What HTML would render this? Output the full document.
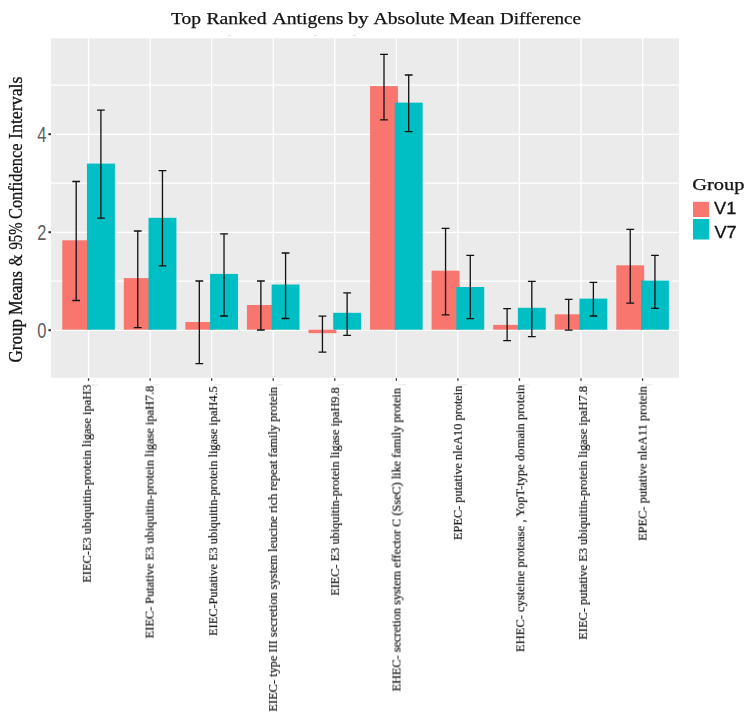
<!DOCTYPE html>
<html><head><meta charset="utf-8"><title>Top Ranked Antigens</title>
<style>
html,body{margin:0;padding:0;background:#fff;}
body{width:748px;height:721px;overflow:hidden;font-family:"Liberation Sans",sans-serif;}
svg{display:block;}
.serif{font-family:"Liberation Serif",serif;}
.sans{font-family:"Liberation Sans",sans-serif;}
</style></head><body>
<svg width="748" height="721" viewBox="0 0 748 721">
<rect x="0" y="0" width="748" height="721" fill="#ffffff"/>
<rect x="51" y="38.3" width="628" height="339.5" fill="#ebebeb"/>
<g stroke="#ffffff" stroke-width="1.15">
<line x1="51" x2="679" y1="281.10" y2="281.10"/>
<line x1="51" x2="679" y1="183.10" y2="183.10"/>
<line x1="51" x2="679" y1="85.10" y2="85.10"/>
</g>
<g stroke="#ffffff" stroke-width="1.3">
<line x1="51" x2="679" y1="330.30" y2="330.30"/>
<line x1="51" x2="679" y1="232.30" y2="232.30"/>
<line x1="51" x2="679" y1="134.30" y2="134.30"/>
<line x1="88.55" x2="88.55" y1="38.3" y2="377.8"/>
<line x1="150.11" x2="150.11" y1="38.3" y2="377.8"/>
<line x1="211.67" x2="211.67" y1="38.3" y2="377.8"/>
<line x1="273.23" x2="273.23" y1="38.3" y2="377.8"/>
<line x1="334.79" x2="334.79" y1="38.3" y2="377.8"/>
<line x1="396.35" x2="396.35" y1="38.3" y2="377.8"/>
<line x1="457.91" x2="457.91" y1="38.3" y2="377.8"/>
<line x1="519.47" x2="519.47" y1="38.3" y2="377.8"/>
<line x1="581.03" x2="581.03" y1="38.3" y2="377.8"/>
<line x1="642.59" x2="642.59" y1="38.3" y2="377.8"/>
</g>
<rect x="62.25" y="240.30" width="27.9" height="89.40" fill="#f8766d"/>
<rect x="86.95" y="163.60" width="27.9" height="166.10" fill="#00bfc4"/>
<rect x="123.81" y="278.10" width="27.9" height="51.60" fill="#f8766d"/>
<rect x="148.51" y="217.80" width="27.9" height="111.90" fill="#00bfc4"/>
<rect x="185.37" y="322.00" width="27.9" height="7.70" fill="#f8766d"/>
<rect x="210.07" y="273.90" width="27.9" height="55.80" fill="#00bfc4"/>
<rect x="246.93" y="305.00" width="27.9" height="24.70" fill="#f8766d"/>
<rect x="271.63" y="284.50" width="27.9" height="45.20" fill="#00bfc4"/>
<rect x="308.49" y="329.70" width="27.9" height="3.50" fill="#f8766d"/>
<rect x="333.19" y="312.80" width="27.9" height="16.90" fill="#00bfc4"/>
<rect x="370.05" y="86.10" width="27.9" height="243.60" fill="#f8766d"/>
<rect x="394.75" y="102.60" width="27.9" height="227.10" fill="#00bfc4"/>
<rect x="431.61" y="270.70" width="27.9" height="59.00" fill="#f8766d"/>
<rect x="456.31" y="287.00" width="27.9" height="42.70" fill="#00bfc4"/>
<rect x="493.17" y="324.90" width="27.9" height="4.80" fill="#f8766d"/>
<rect x="517.87" y="307.80" width="27.9" height="21.90" fill="#00bfc4"/>
<rect x="554.73" y="314.30" width="27.9" height="15.40" fill="#f8766d"/>
<rect x="579.43" y="298.60" width="27.9" height="31.10" fill="#00bfc4"/>
<rect x="616.29" y="265.30" width="27.9" height="64.40" fill="#f8766d"/>
<rect x="640.99" y="280.60" width="27.9" height="49.10" fill="#00bfc4"/>
<g stroke="#111111" stroke-width="1.3" fill="none">
<path d="M72.30 181.50H80.10M76.20 181.50V300.50M72.30 300.50H80.10"/>
<path d="M97.00 110.10H104.80M100.90 110.10V218.10M97.00 218.10H104.80"/>
<path d="M133.86 231.00H141.66M137.76 231.00V327.60M133.86 327.60H141.66"/>
<path d="M158.56 170.70H166.36M162.46 170.70V265.80M158.56 265.80H166.36"/>
<path d="M195.42 281.00H203.22M199.32 281.00V363.70M195.42 363.70H203.22"/>
<path d="M220.12 233.80H227.92M224.02 233.80V316.00M220.12 316.00H227.92"/>
<path d="M256.98 281.00H264.78M260.88 281.00V330.00M256.98 330.00H264.78"/>
<path d="M281.68 253.00H289.48M285.58 253.00V318.50M281.68 318.50H289.48"/>
<path d="M318.54 316.10H326.34M322.44 316.10V352.20M318.54 352.20H326.34"/>
<path d="M343.24 292.80H351.04M347.14 292.80V335.30M343.24 335.30H351.04"/>
<path d="M380.10 54.40H387.90M384.00 54.40V119.80M380.10 119.80H387.90"/>
<path d="M404.80 75.00H412.60M408.70 75.00V131.60M404.80 131.60H412.60"/>
<path d="M441.66 228.40H449.46M445.56 228.40V314.80M441.66 314.80H449.46"/>
<path d="M466.36 255.40H474.16M470.26 255.40V318.70M466.36 318.70H474.16"/>
<path d="M503.22 308.60H511.02M507.12 308.60V340.60M503.22 340.60H511.02"/>
<path d="M527.92 281.40H535.72M531.82 281.40V336.70M527.92 336.70H535.72"/>
<path d="M564.78 299.30H572.58M568.68 299.30V330.10M564.78 330.10H572.58"/>
<path d="M589.48 282.30H597.28M593.38 282.30V316.00M589.48 316.00H597.28"/>
<path d="M626.34 229.40H634.14M630.24 229.40V303.20M626.34 303.20H634.14"/>
<path d="M651.04 255.40H658.84M654.94 255.40V308.30M651.04 308.30H658.84"/>
</g>
<g fill="#333333">
<rect x="48.4" y="329.20" width="2.6" height="2"/>
<rect x="48.4" y="231.20" width="2.6" height="2"/>
<rect x="48.4" y="133.20" width="2.6" height="2"/>
<rect x="87.90" y="378.30" width="1.3" height="2.5"/>
<rect x="149.46" y="378.30" width="1.3" height="2.5"/>
<rect x="211.02" y="378.30" width="1.3" height="2.5"/>
<rect x="272.58" y="378.30" width="1.3" height="2.5"/>
<rect x="334.14" y="378.30" width="1.3" height="2.5"/>
<rect x="395.70" y="378.30" width="1.3" height="2.5"/>
<rect x="457.26" y="378.30" width="1.3" height="2.5"/>
<rect x="518.82" y="378.30" width="1.3" height="2.5"/>
<rect x="580.38" y="378.30" width="1.3" height="2.5"/>
<rect x="641.94" y="378.30" width="1.3" height="2.5"/>
</g>
<text class="sans" transform="translate(41.9,338.10) scale(0.75,1)" text-anchor="middle" font-size="22" fill="#5e5e5e">0</text>
<text class="sans" transform="translate(41.9,240.10) scale(0.75,1)" text-anchor="middle" font-size="22" fill="#5e5e5e">2</text>
<text class="sans" transform="translate(41.9,142.10) scale(0.75,1)" text-anchor="middle" font-size="22" fill="#5e5e5e">4</text>
<g opacity="0.995">
<text class="serif" x="171.00" y="23.8" font-size="16.6" fill="#111" stroke="#111" stroke-width="0.25" textLength="30.06" lengthAdjust="spacingAndGlyphs">Top</text>
<text class="serif" x="206.50" y="23.8" font-size="16.6" fill="#111" stroke="#111" stroke-width="0.25" textLength="60.01" lengthAdjust="spacingAndGlyphs">Ranked</text>
<text class="serif" x="272.50" y="23.8" font-size="16.6" fill="#111" stroke="#111" stroke-width="0.25" textLength="71.02" lengthAdjust="spacingAndGlyphs">Antigens</text>
<text class="serif" x="348.00" y="23.8" font-size="16.6" fill="#111" stroke="#111" stroke-width="0.25" textLength="20.61" lengthAdjust="spacingAndGlyphs">by</text>
<text class="serif" x="373.50" y="23.8" font-size="16.6" fill="#111" stroke="#111" stroke-width="0.25" textLength="71.01" lengthAdjust="spacingAndGlyphs">Absolute</text>
<text class="serif" x="449.00" y="23.8" font-size="16.6" fill="#111" stroke="#111" stroke-width="0.25" textLength="45.57" lengthAdjust="spacingAndGlyphs">Mean</text>
<text class="serif" x="500.00" y="23.8" font-size="16.6" fill="#111" stroke="#111" stroke-width="0.25" textLength="81.02" lengthAdjust="spacingAndGlyphs">Difference</text>
<text class="serif" transform="translate(22.2,362.50) rotate(-90)" font-size="18" fill="#111" stroke="#111" stroke-width="0.3" textLength="43.52" lengthAdjust="spacingAndGlyphs">Group</text>
<text class="serif" transform="translate(22.2,315.00) rotate(-90)" font-size="18" fill="#111" stroke="#111" stroke-width="0.3" textLength="44.03" lengthAdjust="spacingAndGlyphs">Means</text>
<text class="serif" transform="translate(22.2,266.00) rotate(-90)" font-size="18" fill="#111" stroke="#111" stroke-width="0.3" textLength="11.54" lengthAdjust="spacingAndGlyphs">&amp;</text>
<text class="serif" transform="translate(22.2,249.50) rotate(-90)" font-size="18" fill="#111" stroke="#111" stroke-width="0.3" textLength="27.02" lengthAdjust="spacingAndGlyphs">95%</text>
<text class="serif" transform="translate(22.2,219.00) rotate(-90)" font-size="18" fill="#111" stroke="#111" stroke-width="0.3" textLength="75.51" lengthAdjust="spacingAndGlyphs">Confidence</text>
<text class="serif" transform="translate(22.2,139.00) rotate(-90)" font-size="18" fill="#111" stroke="#111" stroke-width="0.3" textLength="62.54" lengthAdjust="spacingAndGlyphs">Intervals</text>
<text id="xl0" class="serif" transform="translate(90.9,582.7) rotate(-90)" font-size="12.3" fill="#111" stroke="#111" stroke-width="0.2" textLength="198.1" lengthAdjust="spacingAndGlyphs">EIEC-E3 ubiquitin-protein ligase ipaH3</text>
<text id="xl1" class="serif" transform="translate(153.6,638.4) rotate(-90)" font-size="12.3" fill="#111" stroke="#111" stroke-width="0.2" textLength="252.7" lengthAdjust="spacingAndGlyphs">EIEC- Putative E3 ubiquitin-protein ligase ipaH7.8</text>
<text id="xl2" class="serif" transform="translate(217.2,635.9) rotate(-90)" font-size="12.3" fill="#111" stroke="#111" stroke-width="0.2" textLength="249.7" lengthAdjust="spacingAndGlyphs">EIEC-Putative E3 ubiquitin-protein ligase ipaH4.5</text>
<text id="xl3" class="serif" transform="translate(277.0,711.6) rotate(-90)" font-size="12.3" fill="#111" stroke="#111" stroke-width="0.2" textLength="324.8" lengthAdjust="spacingAndGlyphs">EIEC- type III secretion system leucine rich repeat family protein</text>
<text id="xl4" class="serif" transform="translate(339.1,595.7) rotate(-90)" font-size="12.3" fill="#111" stroke="#111" stroke-width="0.2" textLength="208.4" lengthAdjust="spacingAndGlyphs">EIEC- E3 ubiquitin-protein ligase ipaH9.8</text>
<text id="xl5" class="serif" transform="translate(400.5,691.4) rotate(-90)" font-size="12.3" fill="#111" stroke="#111" stroke-width="0.2" textLength="303.4" lengthAdjust="spacingAndGlyphs">EHEC- secretion system effector C (SseC) like family protein</text>
<text id="xl6" class="serif" transform="translate(461.9,540.1) rotate(-90)" font-size="12.3" fill="#111" stroke="#111" stroke-width="0.2" textLength="154.4" lengthAdjust="spacingAndGlyphs">EPEC- putative nleA10 protein</text>
<text id="xl7" class="serif" transform="translate(524.3,652.1) rotate(-90)" font-size="12.3" fill="#111" stroke="#111" stroke-width="0.2" textLength="267.5" lengthAdjust="spacingAndGlyphs">EHEC- cysteine protease , YopT-type domain protein</text>
<text id="xl8" class="serif" transform="translate(587.0,639.7) rotate(-90)" font-size="12.3" fill="#111" stroke="#111" stroke-width="0.2" textLength="253.7" lengthAdjust="spacingAndGlyphs">EIEC- putative E3 ubiquitin-protein ligase ipaH7.8</text>
<text id="xl9" class="serif" transform="translate(646.6,540.8) rotate(-90)" font-size="12.3" fill="#111" stroke="#111" stroke-width="0.2" textLength="154.8" lengthAdjust="spacingAndGlyphs">EPEC- putative nleA11 protein</text>
<g fill="#d4d4d8"><rect x="228.4" y="35" width="2" height="1"/><rect x="314.5" y="35" width="2" height="1"/><rect x="353.5" y="35" width="2" height="1"/></g>
<g fill="#e6e6ee"><rect x="90.8" y="384.3" width="7" height="1"/><rect x="152.4" y="384.3" width="7" height="1"/><rect x="214.0" y="384.3" width="7" height="1"/><rect x="275.5" y="384.3" width="7" height="1"/><rect x="337.1" y="384.3" width="7" height="1"/><rect x="398.7" y="384.3" width="7" height="1"/><rect x="460.2" y="384.3" width="7" height="1"/><rect x="521.8" y="384.3" width="7" height="1"/><rect x="583.3" y="384.3" width="7" height="1"/><rect x="644.9" y="384.3" width="7" height="1"/></g>
<text id="lgt" class="serif" x="692.2" y="190.3" font-size="15.8" fill="#111" stroke="#111" stroke-width="0.25" textLength="52.3" lengthAdjust="spacingAndGlyphs">Group</text>
<rect x="693" y="201.8" width="16" height="15.2" fill="#f8766d"/>
<rect x="693" y="219" width="16" height="20.5" fill="#00bfc4"/>
<text class="sans" x="714.1" y="214.3" font-size="17.3" fill="#111" stroke="#111" stroke-width="0.3" textLength="22.2" lengthAdjust="spacingAndGlyphs">V1</text>
<text class="sans" x="714.4" y="238.1" font-size="17.3" fill="#111" stroke="#111" stroke-width="0.3" textLength="22.2" lengthAdjust="spacingAndGlyphs">V7</text>
</g>
</svg>
</body></html>
